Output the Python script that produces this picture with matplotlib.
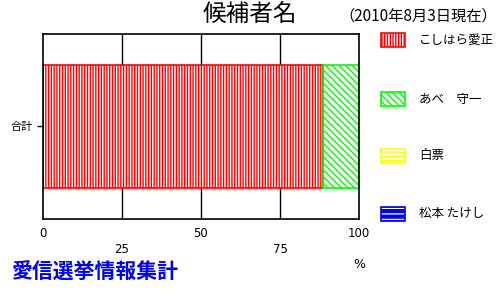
import matplotlib.pyplot as plt
import matplotlib.patches as mpatches

plt.rcParams['font.family'] = ['Noto Sans CJK JP', 'DejaVu Sans']
plt.rcParams['hatch.linewidth'] = 1.0

# data
candidates = ["こしはら愛正", "あべ　守一", "白票", "松本 たけし"]
shares = [88.6, 11.4, 0.0, 0.0]
colors = ["#ff0000", "#00ff00", "#ffff00", "#0000ff"]
hatches = ["||||||", "\\\\\\\\\\", "----", "---"]
faces = ["white", "white", "white", "#0000ff"]
hatch_cols = ["#ff0000", "#00ff00", "#ffff00", "white"]
row_label = "合計"
ticks = [0, 25, 50, 75, 100]

fig = plt.figure(figsize=(5, 3), dpi=100)
ax = fig.add_axes([0.086, 0.27, 0.632, 0.617])

left = 0
for i in range(len(candidates)):
    if shares[i] > 0:
        ax.barh(0, shares[i], left=left, height=0.66, color=faces[i],
                edgecolor=hatch_cols[i], hatch=hatches[i], linewidth=0, zorder=3)
        ax.barh(0, shares[i], left=left, height=0.66, color="none",
                edgecolor=colors[i], linewidth=1.2, zorder=4)
    left += shares[i]

ax.set_xlim(0, 100)
ax.set_ylim(-0.5, 0.5)
for v in ticks[1:-1]:
    ax.axvline(v, color="black", linewidth=1, zorder=1)
for s in ax.spines.values():
    s.set_linewidth(1.2)
    s.set_zorder(5)

ax.set_yticks([0])
ax.set_yticklabels([row_label], fontsize=8)
ax.tick_params(axis="y", length=4, width=1, pad=3)
ax.set_xticks(ticks)
ax.set_xticklabels([str(t) for t in ticks], fontsize=8.5, family="DejaVu Sans")
ax.tick_params(axis="x", length=0, pad=6)
for i, tk in enumerate(ax.xaxis.get_major_ticks()):
    if i % 2 == 1:
        tk.set_pad(17)

fig.text(0.5, 0.952, "候補者名", fontsize=17, ha="center", va="center")
fig.text(0.995, 0.946, "（2010年8月3日現在）", fontsize=11, ha="right", va="center")
fig.text(0.718, 0.12, "%", fontsize=9, ha="center", va="center", family="DejaVu Sans")
fig.text(0.024, 0.093, "愛信選挙情報集計", fontsize=15, color="#0000ff",
         ha="left", va="center", fontweight="semibold")

# legend
leg_y = [0.867, 0.670, 0.480, 0.287]
for i in range(len(candidates)):
    p = mpatches.Rectangle((0.762, leg_y[i] - 0.022), 0.048, 0.044,
                           transform=fig.transFigure, facecolor=faces[i],
                           edgecolor=hatch_cols[i], hatch=hatches[i], linewidth=0)
    fig.patches.append(p)
    b = mpatches.Rectangle((0.762, leg_y[i] - 0.022), 0.048, 0.044,
                           transform=fig.transFigure, facecolor="none",
                           edgecolor=colors[i], linewidth=1.2)
    fig.patches.append(b)
    fig.text(0.838, leg_y[i], candidates[i], fontsize=9, ha="left", va="center")

fig.savefig("out.png", dpi=100)
